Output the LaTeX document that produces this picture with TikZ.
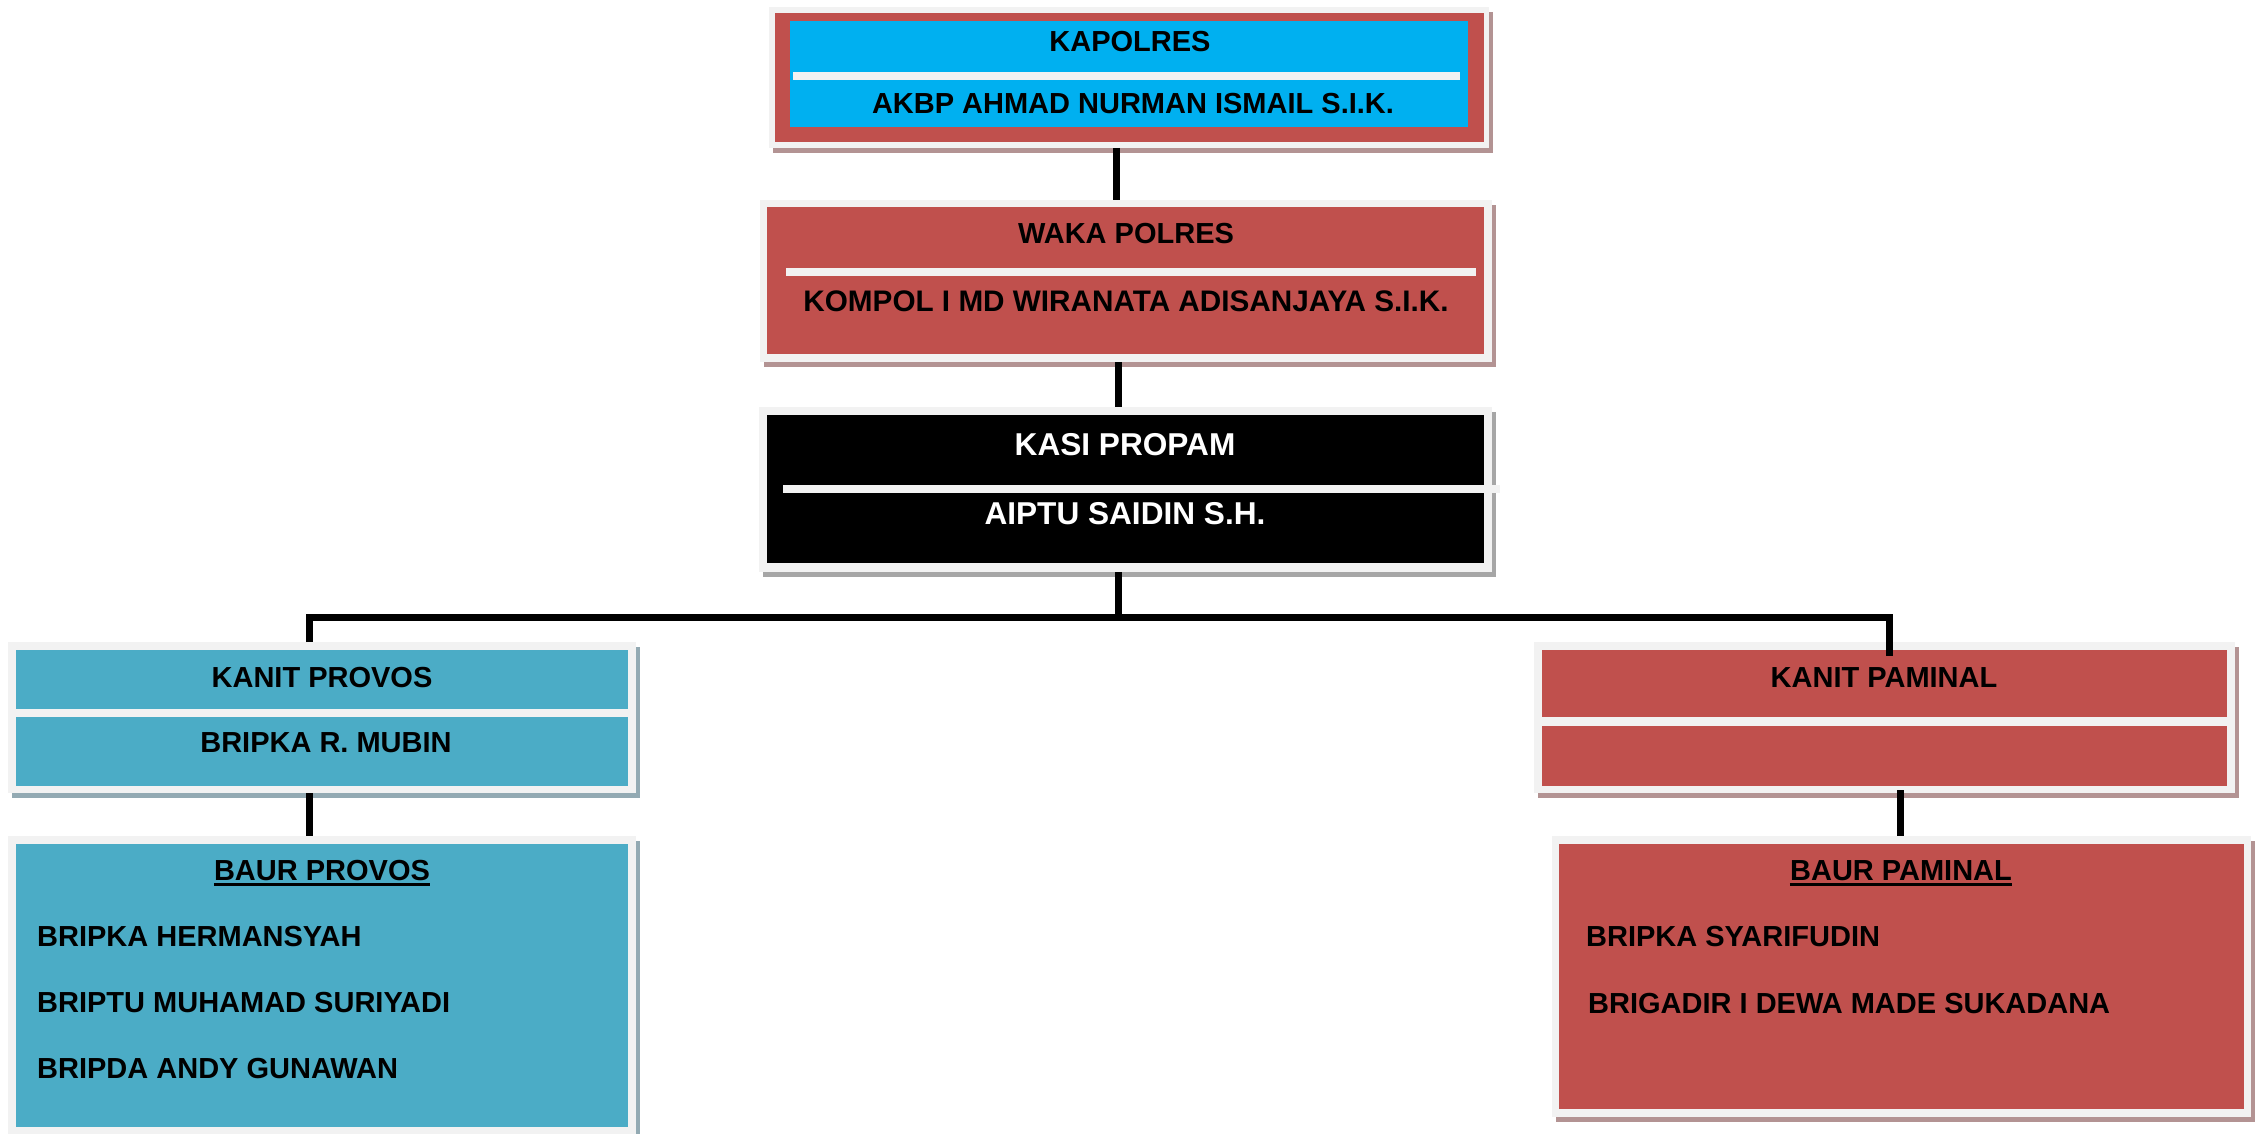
\documentclass[tikz,border=0pt]{standalone}
\usepackage{fontspec}
\setmainfont{Liberation Sans}
\usetikzlibrary{shadows}
\definecolor{frameclr}{HTML}{F2F2F2}
\definecolor{redbox}{HTML}{C0504D}
\definecolor{skybox}{HTML}{00B0F0}
\definecolor{tealbox}{HTML}{4BACC6}
\definecolor{shred}{HTML}{B39393}
\definecolor{shteal}{HTML}{93AAB3}
\definecolor{shgray}{HTML}{A6A6A6}
\begin{document}
\begin{tikzpicture}[x=1pt,y=-1pt,
  box/.style={rectangle, draw=none, inner sep=0pt, outer sep=0pt, anchor=north west},
  frame/.style={box, fill=frameclr, drop shadow={shadow xshift=4pt, shadow yshift=-5pt, shadow scale=1, fill=#1, opacity=1}},
  txt/.style={inner sep=0pt, font=\fontsize{29}{35}\selectfont\bfseries, text height=20.8pt, text depth=0pt},
  bigtxt/.style={inner sep=0pt, font=\fontsize{31.6}{38}\selectfont\bfseries, text height=22.6pt, text depth=0pt, text=white},
  lefttxt/.style={txt, anchor=west},
  conn/.style={line width=7pt, black},
  sepline/.style={line width=8pt, frameclr},
  uline/.style={line width=3pt, black}]
\useasboundingbox (0,0) rectangle (2255,1134);

% KAPOLRES
\node[frame=shred, minimum width=720pt, minimum height=141pt] (kapF) at (769,7) {};
\node[box, fill=redbox, minimum width=709pt, minimum height=129pt] (kapR) at (775,13) {};
\node[box, fill=skybox, minimum width=678pt, minimum height=106pt] (kapC) at (790,21) {};
\draw[sepline] (793,76) -- (1460,76);
\node[txt] (kapT1) at (1130,41) {KAPOLRES};
\node[txt] (kapT2) at (1133,103) {AKBP AHMAD NURMAN ISMAIL S.I.K.};

% WAKA POLRES
\node[frame=shred, minimum width=732pt, minimum height=162pt] (wakaF) at (760,200) {};
\node[box, fill=redbox, minimum width=717pt, minimum height=147pt] (wakaR) at (767,207) {};
\draw[sepline] (786,272) -- (1476,272);
\node[txt] (wakaT1) at (1126,233) {WAKA POLRES};
\node[txt, font=\fontsize{29.7}{35}\selectfont\bfseries, text height=21.3pt] (wakaT2) at (1126,301) {KOMPOL I MD WIRANATA ADISANJAYA S.I.K.};

% KASI PROPAM
\node[frame=shgray, minimum width=733pt, minimum height=165pt] (kasiF) at (759,407) {};
\node[box, fill=black, minimum width=717pt, minimum height=148pt] (kasiB) at (767,415) {};
\draw[sepline] (783,489) -- (1500,489);
\node[bigtxt] (kasiT1) at (1125,444) {KASI PROPAM};
\node[bigtxt] (kasiT2) at (1125,513) {AIPTU SAIDIN S.H.};

% KANIT PROVOS
\node[frame=shteal, minimum width=628pt, minimum height=151pt] (provF) at (8,642) {};
\node[box, fill=tealbox, minimum width=612pt, minimum height=59pt] (provC1) at (16,650) {};
\node[box, fill=tealbox, minimum width=612pt, minimum height=69pt] (provC2) at (16,717) {};
\node[txt] (provT1) at (322,677) {KANIT PROVOS};
\node[txt] (provT2) at (326,742) {BRIPKA R. MUBIN};

% BAUR PROVOS
\node[frame=shteal, minimum width=628pt, minimum height=304pt] (bprovF) at (8,836) {};
\node[box, fill=tealbox, minimum width=612pt, minimum height=283pt] (bprovC) at (16,844) {};
\node[txt] (bprovT) at (322,870) {BAUR PROVOS};
\draw[uline] ([yshift=-4pt]bprovT.south west) -- ([yshift=-4pt]bprovT.south east);
\node[lefttxt] (bprovL1) at (37,936) {BRIPKA HERMANSYAH};
\node[lefttxt] (bprovL2) at (37,1002) {BRIPTU MUHAMAD SURIYADI};
\node[lefttxt] (bprovL3) at (37,1068) {BRIPDA ANDY GUNAWAN};

% KANIT PAMINAL
\node[frame=shred, minimum width=701pt, minimum height=151pt] (kpamF) at (1534,642) {};
\node[box, fill=redbox, minimum width=685pt, minimum height=67pt] (kpamR1) at (1542,650) {};
\node[box, fill=redbox, minimum width=685pt, minimum height=60pt] (kpamR2) at (1542,726) {};
\node[txt] (kpamT1) at (1884,677) {KANIT PAMINAL};

% BAUR PAMINAL
\node[frame=shred, minimum width=699pt, minimum height=281pt] (bpamF) at (1552,836) {};
\node[box, fill=redbox, minimum width=685pt, minimum height=265pt] (bpamR) at (1559,844) {};
\node[txt] (bpamT) at (1901,870) {BAUR PAMINAL};
\draw[uline] ([yshift=-4pt]bpamT.south west) -- ([yshift=-4pt]bpamT.south east);
\node[lefttxt] (bpamL1) at (1586,936) {BRIPKA SYARIFUDIN};
\node[lefttxt] (bpamL2) at (1588,1003) {BRIGADIR I DEWA MADE SUKADANA};

% connectors
\coordinate (x1) at (1116,0);
\coordinate (x2) at (1118,0);
\coordinate (xl) at (309,0);
\coordinate (xr) at (1889,0);
\coordinate (xp) at (1900,0);
\coordinate (bus) at (1118,617);
\draw[conn] (kapF.south -| x1) -- (wakaF.north -| x1);
\draw[conn] (wakaF.south -| x2) -- (kasiF.north -| x2);
\draw[conn] (kasiF.south -| x2) -- (bus);
\draw[conn] (provF.north -| xl) -- (xl |- bus) -- (xr |- bus) -- ([yshift=-6pt]kpamR1.north -| xr);
\draw[conn] (provF.south -| xl) -- (bprovF.north -| xl);
\draw[conn] ([yshift=3pt]kpamF.south -| xp) -- (bpamF.north -| xp);
\end{tikzpicture}
\end{document}
